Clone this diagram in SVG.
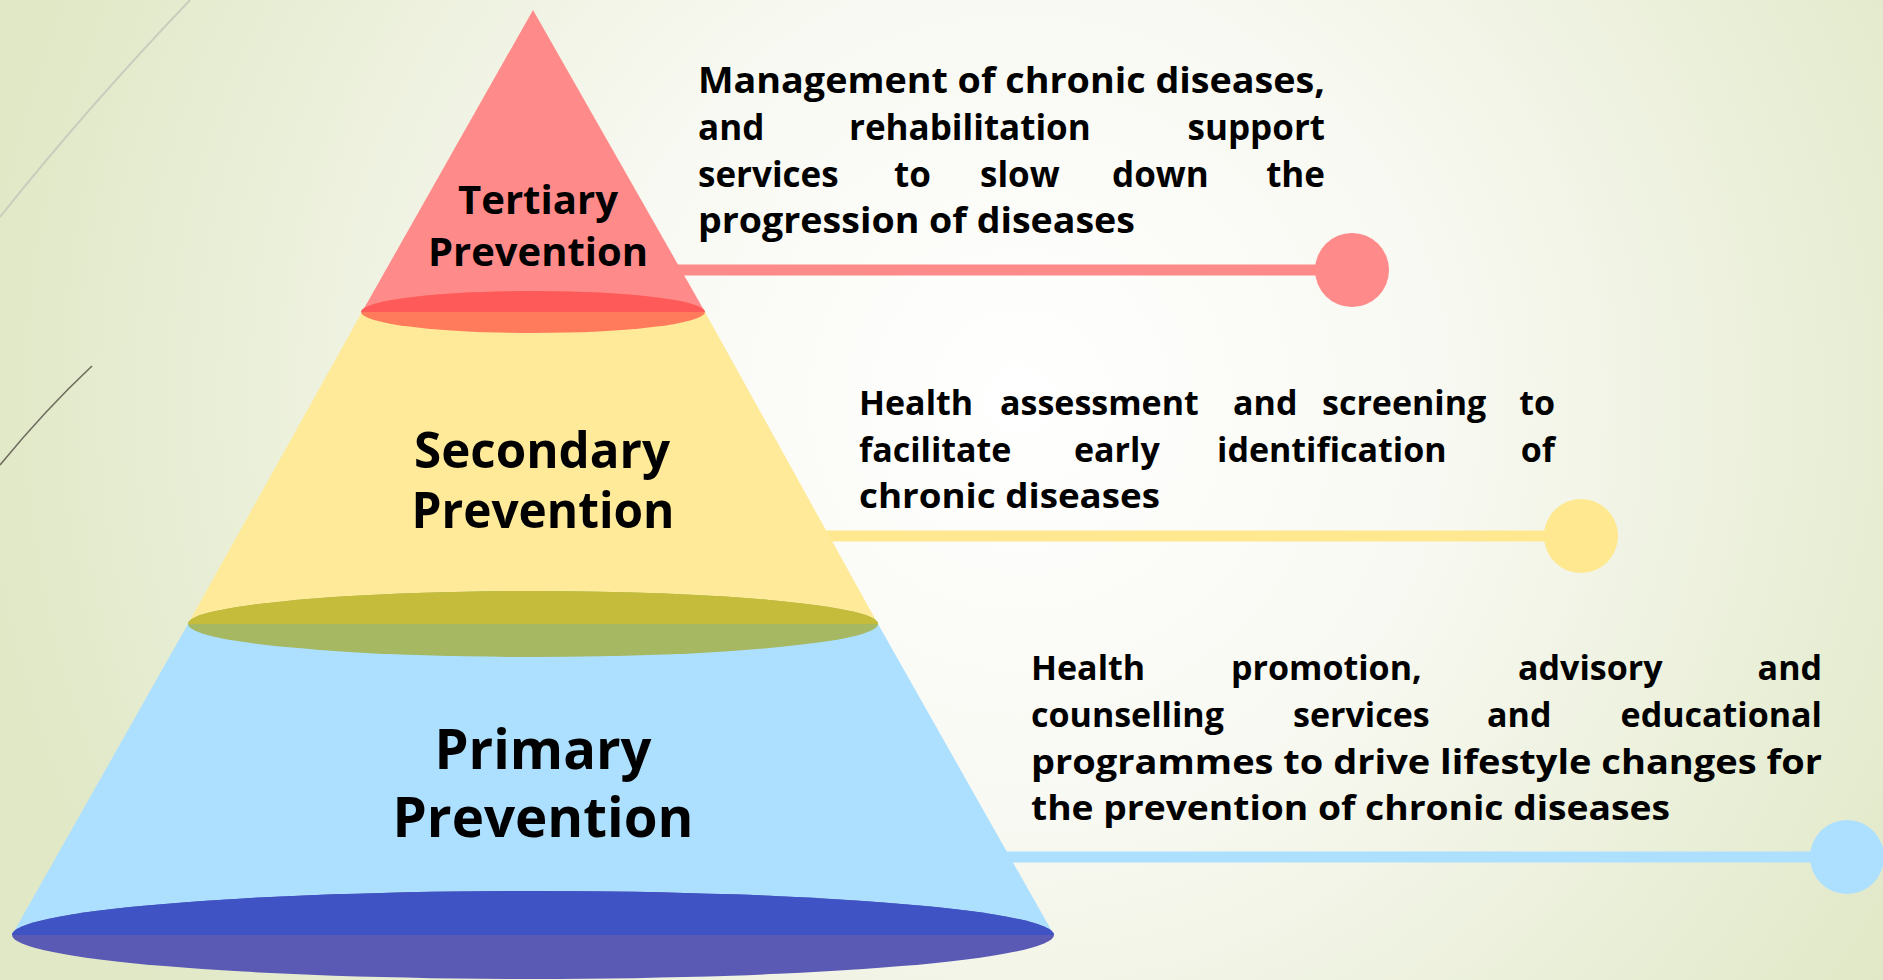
<svg xmlns="http://www.w3.org/2000/svg" width="1883" height="980" viewBox="0 0 1883 980">
  <defs>
    <radialGradient id="bg" gradientUnits="userSpaceOnUse" cx="1020" cy="400" r="1050">
      <stop offset="0" stop-color="#FFFFFF"/>
      <stop offset="0.4" stop-color="#F8F9F2"/>
      <stop offset="1" stop-color="#E0E8C6"/>
    </radialGradient>
    <clipPath id="topT"><rect x="0" y="0" width="1883" height="312"/></clipPath>
    <clipPath id="topS"><rect x="0" y="0" width="1883" height="624"/></clipPath>
    <clipPath id="topP"><rect x="0" y="0" width="1883" height="935"/></clipPath>
    <style>
      .lbl { font-family: "Open Sans", "Noto Sans", "Liberation Sans", sans-serif; font-weight: 700; fill: #000; text-anchor: middle; }
      .desc { font-family: "Open Sans", "Noto Sans", "Liberation Sans", sans-serif; font-weight: 700; fill: #000; }
      .end { text-anchor: end; }
      .d35 { font-size: 35px; }
      .d34 { font-size: 34px; }
    </style>
  </defs>

  <rect x="0" y="0" width="1883" height="980" fill="url(#bg)"/>
  <path d="M0,217 Q85,110 190,0" fill="none" stroke="#C9CDBD" stroke-width="2"/>
  <path d="M0,465 Q45,410 92,366" fill="none" stroke="#6E6A5C" stroke-width="1.6"/>

  <g id="connectors">
    <line x1="676" y1="270" x2="1330" y2="270" stroke="#FF8A8A" stroke-width="11"/>
    <circle cx="1352" cy="270" r="37" fill="#FF8A8A"/>
    <line x1="826" y1="536" x2="1560" y2="536" stroke="#FFE88F" stroke-width="11"/>
    <circle cx="1581" cy="536" r="37" fill="#FFE88F"/>
    <line x1="1006" y1="857" x2="1825" y2="857" stroke="#ADE0FF" stroke-width="11"/>
    <circle cx="1847" cy="857" r="37" fill="#ADE0FF"/>
  </g>

  <g id="primary">
    <polygon points="188,624 878,624 1054,935 12,935" fill="#ADE0FF"/>
    <ellipse cx="533" cy="935" rx="521" ry="44" fill="#5A5AB5"/>
    <ellipse cx="533" cy="935" rx="521" ry="44" fill="#3F53C5" clip-path="url(#topP)"/>
    <text class="lbl" x="543" y="769" font-size="56" textLength="217" lengthAdjust="spacingAndGlyphs">Primary</text>
    <text class="lbl" x="543" y="837" font-size="56" textLength="301" lengthAdjust="spacingAndGlyphs">Prevention</text>
  </g>

  <g id="secondary">
    <polygon points="362,312 705,312 878,624 188,624" fill="#FEEA99"/>
    <ellipse cx="533" cy="624" rx="345" ry="33" fill="#A6B862"/>
    <ellipse cx="533" cy="624" rx="345" ry="33" fill="#C4BC3A" clip-path="url(#topS)"/>
    <text class="lbl" x="542" y="468" font-size="50" textLength="256" lengthAdjust="spacingAndGlyphs">Secondary</text>
    <text class="lbl" x="543" y="528" font-size="50" textLength="263" lengthAdjust="spacingAndGlyphs">Prevention</text>
  </g>

  <g id="tertiary">
    <polygon points="533,10 705,312 362,312" fill="#FF8A8A"/>
    <ellipse cx="533" cy="312" rx="172" ry="21" fill="#FF7B5B"/>
    <ellipse cx="533" cy="312" rx="172" ry="21" fill="#FF5A5A" clip-path="url(#topT)"/>
    <text class="lbl" x="538" y="214" font-size="40" textLength="160" lengthAdjust="spacingAndGlyphs">Tertiary</text>
    <text class="lbl" x="538" y="266" font-size="40" textLength="220" lengthAdjust="spacingAndGlyphs">Prevention</text>
  </g>

  <g id="tertiary-desc" class="desc d35">
    <text x="698" y="93" textLength="627" lengthAdjust="spacingAndGlyphs">Management of chronic diseases,</text>
    <text x="698" y="140">and</text>
    <text x="849" y="140">rehabilitation</text>
    <text class="end" x="1325" y="140">support</text>
    <text x="698" y="187">services</text>
    <text x="894" y="187">to</text>
    <text x="980" y="187">slow</text>
    <text x="1112" y="187">down</text>
    <text class="end" x="1325" y="187">the</text>
    <text x="698" y="233" textLength="437" lengthAdjust="spacingAndGlyphs">progression of diseases</text>
  </g>

  <g id="secondary-desc" class="desc d34">
    <text x="859" y="415">Health</text>
    <text x="1000" y="415">assessment</text>
    <text x="1233" y="415">and</text>
    <text x="1322" y="415">screening</text>
    <text class="end" x="1555" y="415">to</text>
    <text x="859" y="462">facilitate</text>
    <text x="1074" y="462">early</text>
    <text x="1217" y="462">identification</text>
    <text class="end" x="1555" y="462">of</text>
    <text x="859" y="508" textLength="301" lengthAdjust="spacingAndGlyphs">chronic diseases</text>
  </g>

  <g id="primary-desc" class="desc d34">
    <text x="1031" y="680">Health</text>
    <text x="1231" y="680">promotion,</text>
    <text x="1518" y="680">advisory</text>
    <text class="end" x="1822" y="680">and</text>
    <text x="1031" y="727">counselling</text>
    <text x="1293" y="727">services</text>
    <text x="1487" y="727">and</text>
    <text class="end" x="1822" y="727">educational</text>
    <text x="1031" y="774" textLength="791" lengthAdjust="spacingAndGlyphs">programmes to drive lifestyle changes for</text>
    <text x="1031" y="820" textLength="639" lengthAdjust="spacingAndGlyphs">the prevention of chronic diseases</text>
  </g>
</svg>
